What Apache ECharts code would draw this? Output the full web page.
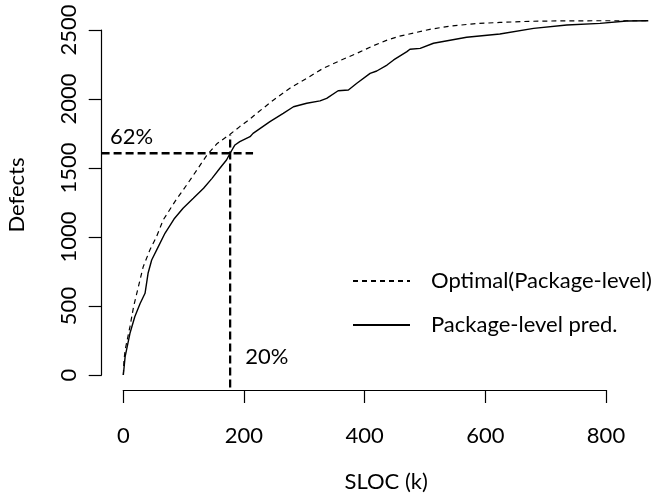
<!DOCTYPE html>
<html lang="en">
<head>
    <meta charset="UTF-8">
    <title>Defects vs SLOC</title>
    <script src="https://cdn.jsdelivr.net/npm/echarts@6/dist/echarts.min.js"></script>
    <style>
        html, body { margin: 0; padding: 0; background: #fff; }
    </style>
</head>
<body>
<div id="main" style="width: 653px;height: 493px;"></div>
<script>
    // 数据：累计 SLOC(k) 与累计缺陷数
    var optSloc    = [0, 1, 3, 11, 17, 25, 33, 44, 55, 66, 86, 105, 122, 138, 155, 177, 193, 210, 221, 249, 276, 304, 331, 359, 387, 414, 436, 458, 508, 540, 580, 624, 674, 720, 785, 870];
    var optDefects = [0, 100, 181, 350, 495, 640, 785, 906, 1002, 1123, 1260, 1377, 1486, 1590, 1675, 1745, 1800, 1855, 1896, 1993, 2078, 2150, 2222, 2278, 2331, 2385, 2425, 2455, 2505, 2527, 2545, 2555, 2563, 2566, 2567, 2567];

    var predSloc    = [0, 3, 11, 19, 28, 36, 41, 47, 58, 69, 84, 99, 116, 133, 147, 160, 171, 177, 185, 193, 210, 215, 243, 265, 282, 304, 326, 337, 356, 373, 387, 409, 420, 437, 448, 470, 475, 492, 514, 569, 624, 680, 735, 790, 834, 870];
    var predDefects = [0, 133, 302, 422, 520, 592, 737, 833, 930, 1027, 1130, 1208, 1280, 1353, 1425, 1498, 1558, 1607, 1667, 1691, 1727, 1751, 1836, 1896, 1944, 1969, 1986, 2005, 2060, 2065, 2114, 2186, 2203, 2246, 2283, 2343, 2360, 2367, 2404, 2447, 2471, 2512, 2536, 2548, 2565, 2567];

    // 20% SLOC -> 62% 缺陷 的辅助线
    var hGuide = [[-36, 1607], [215, 1607]];
    var vGuide = [[177, -90], [177, 1740]];
    var notes = [
        {name: '62%', value: [-22, 1728]},
        {name: '20%', value: [202, 133]}
    ];

    var seriesNames = ['Optimal(Package-level)', 'Package-level pred.'];

    function pairs(xs, ys) {
        return xs.map(function (x, i) { return [x, ys[i]]; });
    }

    var font = 'Lato, "Open Sans", sans-serif';
    var black = '#000';
    var fs = 22;

    var myChart = echarts.init(document.getElementById('main'), null, {renderer: 'canvas'});
    var option = {
        animation: false,
        color: [black],
        textStyle: {fontFamily: font, color: black},
        grid: [
            // 数据区域（隐藏坐标轴）
            {left: 101.6, right: 1.1, top: 2.4, bottom: 103.1, containLabel: false, outerBoundsMode: 'none'},
            // 仅用于画坐标轴 (0..800, 0..2500)
            {left: 123.3, right: 47, top: 30, bottom: 118, containLabel: false, outerBoundsMode: 'none'}
        ],
        xAxis: [
            {gridIndex: 0, type: 'value', min: -36, max: 876, show: false},
            {
                gridIndex: 1, type: 'value', min: 0, max: 800, interval: 200, offset: 15,
                axisLine: {onZero: false, lineStyle: {color: black, width: 1.2}},
                axisTick: {length: 13, lineStyle: {color: black, width: 1.2}},
                axisLabel: {fontSize: fs, color: black, fontFamily: font, margin: 35},
                splitLine: {show: false},
                name: 'SLOC (k)', nameLocation: 'middle', nameGap: 81,
                nameTextStyle: {fontSize: fs, color: black, fontFamily: font, padding: [0, 0, 0, 43]}
            }
        ],
        yAxis: [
            {gridIndex: 0, type: 'value', min: -108, max: 2700, show: false},
            {
                gridIndex: 1, type: 'value', min: 0, max: 2500, interval: 500, offset: 21.6,
                axisLine: {show: true, onZero: false, lineStyle: {color: black, width: 1.2}},
                axisTick: {show: true, length: 13, lineStyle: {color: black, width: 1.2}},
                axisLabel: {
                    fontSize: fs, color: black, fontFamily: font, rotate: 90, margin: 22,
                    formatter: function (v) { return String(v); }
                },
                splitLine: {show: false},
                name: 'Defects', nameLocation: 'middle', nameGap: 74, nameRotate: 90,
                nameTextStyle: {fontSize: fs, color: black, fontFamily: font, padding: [0, 0, 0, 15]}
            }
        ],
        legend: {
            data: seriesNames,
            orient: 'vertical',
            left: 352, top: 270,
            padding: 0,
            itemWidth: 57, itemHeight: 14, itemGap: 22,
            itemStyle: {opacity: 0},
            textStyle: {fontSize: fs, color: black, fontFamily: font, padding: [0, 0, 0, 16]}
        },
        series: [
            {
                name: seriesNames[0], type: 'line', xAxisIndex: 0, yAxisIndex: 0,
                data: pairs(optSloc, optDefects),
                symbol: 'none', showSymbol: false, silent: true,
                lineStyle: {color: black, width: 1.2, type: [5, 4]},
                itemStyle: {color: black}
            },
            {
                name: seriesNames[1], type: 'line', xAxisIndex: 0, yAxisIndex: 0,
                data: pairs(predSloc, predDefects),
                symbol: 'none', showSymbol: false, silent: true,
                lineStyle: {color: black, width: 1.4, type: 'solid'},
                itemStyle: {color: black}
            },
            {
                type: 'line', xAxisIndex: 0, yAxisIndex: 0, data: hGuide,
                symbol: 'none', silent: true,
                lineStyle: {color: black, width: 2.3, type: [8, 4]}
            },
            {
                type: 'line', xAxisIndex: 0, yAxisIndex: 0, data: vGuide,
                symbol: 'none', silent: true,
                lineStyle: {color: black, width: 2.3, type: [8, 4]}
            },
            {
                type: 'scatter', xAxisIndex: 0, yAxisIndex: 0, data: notes,
                symbolSize: 0, silent: true,
                itemStyle: {color: black},
                label: {
                    show: true, position: [0, 0], align: 'left', verticalAlign: 'middle',
                    formatter: '{b}', fontSize: fs, color: black, fontFamily: font,
                    textBorderWidth: 0, opacity: 1
                }
            }
        ]
    };
    myChart.setOption(option);
</script>
</body>
</html>
